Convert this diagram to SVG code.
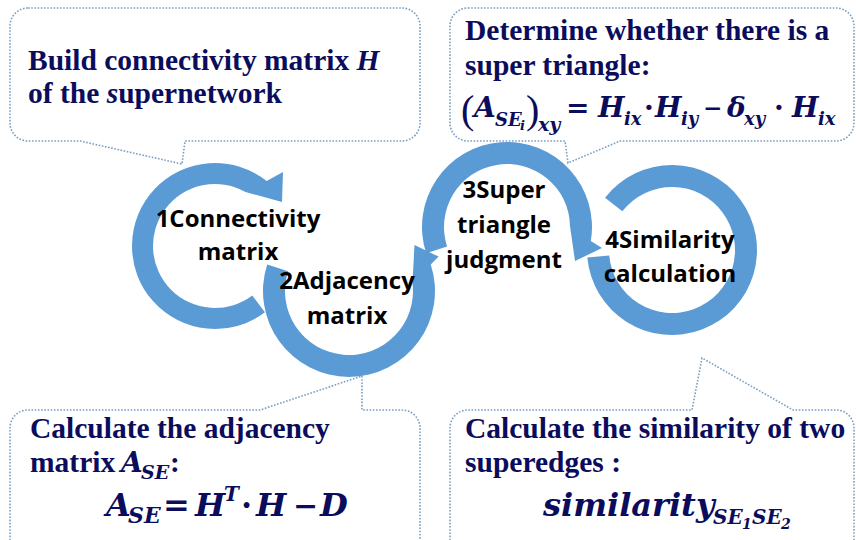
<svg xmlns="http://www.w3.org/2000/svg" width="856" height="540" viewBox="0 0 856 540">
<style>
  .callout { fill: #ffffff; stroke: #7a9fc2; stroke-width: 1.6; stroke-dasharray: 1.6 1.6; }
  .ring { fill: #5b9bd5; }
  .lbl { font-family: "Open Sans", "Noto Sans", sans-serif; font-weight: 700; font-size: 24px; fill: #000; text-anchor: middle; }
  .ct { font-family: "Liberation Serif", "Times New Roman", serif; font-weight: 700; font-size: 29.5px; fill: #0c0c5c; }
  .it { font-style: italic; }
  .m { font-family: "DejaVu Serif", serif; font-weight: 700; font-style: italic; fill: #0c0c5c; }
  .mu { font-family: "DejaVu Serif", serif; font-weight: 700; fill: #0c0c5c; }
  .par { font-family: "Liberation Serif", "Times New Roman", serif; fill: #0c0c5c; }
</style>

<g id="callout-build">
  <path class="callout" d="M 28 8 H 402 A 18 18 0 0 1 420 26 V 123 A 18 18 0 0 1 402 141 H 185 L 182 164 L 80 141 H 28 A 18 18 0 0 1 10 123 V 26 A 18 18 0 0 1 28 8 Z"/>
  <text class="ct" x="28" y="70">Build connectivity matrix <tspan class="it">H</tspan></text>
  <text class="ct" x="28" y="103">of the <tspan class="it">s</tspan>upernetwork</text>
</g>

<g id="callout-triangle">
  <path class="callout" d="M 468 8 H 836 A 18 18 0 0 1 854 26 V 123 A 18 18 0 0 1 836 141 H 620 L 568 163 L 565 141 H 468 A 18 18 0 0 1 450 123 V 26 A 18 18 0 0 1 468 8 Z"/>
  <text class="ct" x="465" y="40">Determine whether there is a</text>
  <text class="ct" x="465" y="75">super triangle:</text>
  <text class="par" x="461" y="123" font-size="40">(</text>
  <text class="m" x="474" y="117" font-size="28">A</text>
  <text class="m" x="495" y="126" font-size="18">SE</text>
  <text class="m" x="520" y="130" font-size="13">i</text>
  <text class="par" x="526" y="123" font-size="40">)</text>
  <text class="m" x="538" y="131" font-size="19">xy</text>
  <text class="mu" x="566" y="117" font-size="28">=</text>
  <text class="m" x="598" y="117" font-size="28">H</text>
  <text class="m" x="624" y="125" font-size="18">ix</text>
  <text class="mu" x="644" y="117" font-size="28">·</text>
  <text class="m" x="655" y="117" font-size="28">H</text>
  <text class="m" x="681" y="125" font-size="18">iy</text>
  <text class="mu" x="703" y="116" font-size="23">−</text>
  <text class="m" x="727" y="117" font-size="28">δ</text>
  <text class="m" x="744" y="125" font-size="18">xy</text>
  <text class="mu" x="774" y="117" font-size="28">·</text>
  <text class="m" x="792" y="117" font-size="28">H</text>
  <text class="m" x="818" y="125" font-size="18">ix</text>
</g>

<g id="callout-adjacency">
  <path class="callout" d="M 10 550 V 428 A 18 18 0 0 1 28 410 H 260 L 362 376 L 362 410 H 402 A 18 18 0 0 1 420 428 V 550"/>
  <text class="ct" x="30" y="438">Calculate the adjacency</text>
  <text class="ct" x="30" y="472">matrix</text>
  <text class="m" x="121" y="472" font-size="28">A</text>
  <text class="m" x="141" y="479" font-size="19">SE</text>
  <text class="ct" x="170" y="472">:</text>
  <text class="m" x="106" y="516" font-size="32">A</text>
  <text class="m" x="128" y="523" font-size="22">SE</text>
  <text class="mu" x="163" y="516" font-size="32">=</text>
  <text class="m" x="195" y="516" font-size="32">H</text>
  <text class="m" x="224" y="501" font-size="20">T</text>
  <text class="mu" x="241" y="516" font-size="32">·</text>
  <text class="m" x="256" y="516" font-size="32">H</text>
  <text class="mu" x="293" y="516" font-size="30">−</text>
  <text class="m" x="320" y="516" font-size="32">D</text>
</g>

<g id="callout-similarity">
  <path class="callout" d="M 450 550 V 428 A 18 18 0 0 1 468 410 H 692 L 702 358 L 793 410 H 836 A 18 18 0 0 1 854 428 V 550"/>
  <text class="ct" x="465" y="438">Calculate the similarity of two</text>
  <text class="ct" x="465" y="472">superedges :</text>
  <text class="m" x="543" y="516" font-size="32">similarity</text>
  <text class="m" x="713" y="524" font-size="20">SE</text>
  <text class="m" x="742" y="529" font-size="14">1</text>
  <text class="m" x="752" y="524" font-size="20">SE</text>
  <text class="m" x="781" y="529" font-size="14">2</text>
</g>

<g id="connectors">
  <path class="ring" d="M 264.95 312.29 A 83 83 0 1 1 266.67 181.05 L 283 172 L 282 202 L 245.5 192 A 62 62 0 1 0 252.31 295.52 Z"/>
  <path class="ring" d="M 267.2 264.4 A 86 86 0 1 0 430.78 264.39 L 438.6 256.6 L 414.5 245.1 L 412.45 282.65 A 64 64 0 1 1 288.13 271.22 Z"/>
  <path class="ring" d="M 426.16 253.27 A 85 85 0 1 1 590.84 240.99 L 602 248 L 575 261 L 570 226 A 63 63 0 1 0 447.08 246.47 Z"/>
  <path class="ring" d="M 605.02 197.67 A 85 85 0 1 1 587.32 257.41 L 609.24 255.49 A 63 63 0 1 0 622.35 211.21 Z"/>
</g>

<g id="step1">
  <text class="lbl" x="238" y="227">1Connectivity</text>
  <text class="lbl" x="238" y="260">matrix</text>
</g>
<g id="step2">
  <text class="lbl" x="347" y="289">2Adjacency</text>
  <text class="lbl" x="347" y="324">matrix</text>
</g>
<g id="step3">
  <text class="lbl" x="504" y="198">3Super</text>
  <text class="lbl" x="504" y="233">triangle</text>
  <text class="lbl" x="504" y="268">judgment</text>
</g>
<g id="step4">
  <text class="lbl" x="670" y="248">4Similarity</text>
  <text class="lbl" x="670" y="282">calculation</text>
</g>
</svg>
